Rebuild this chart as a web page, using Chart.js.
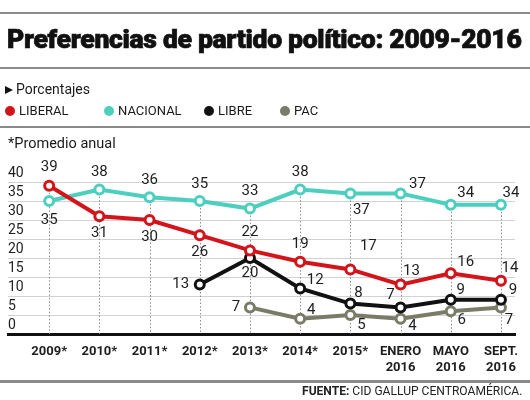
<!DOCTYPE html>
<html>
<head>
<meta charset="utf-8">
<script src="https://cdn.jsdelivr.net/npm/chart.js@4.4.1/dist/chart.umd.min.js"></script>
<style>
  html, body { margin: 0; padding: 0; background: #fff; }
  body { width: 530px; height: 400px; position: relative; overflow: hidden; font-family: Roboto, "Open Sans", sans-serif; color: #1a1a1a; }
  #chartWrap { position: absolute; left: 0; top: 0; width: 530px; height: 400px; }
  .rule { position: absolute; left: 0; width: 530px; background: #8a8a8a; }
  .txt { position: absolute; white-space: nowrap; }
  #title { left: 7px; top: 25px; font-size: 25px; font-weight: 900; line-height: 30px; letter-spacing: -0.3px; transform-origin: left center; color: #111; -webkit-text-stroke: 0.7px #111; }
  #sub { left: 5px; top: 80px; font-size: 14px; line-height: 18px; }
  #tri { display: inline-block; width: 0; height: 0; border-top: 4.5px solid transparent; border-bottom: 4.5px solid transparent; border-left: 8px solid #111; margin-right: 3px; vertical-align: 0px; }
  #note { left: 8px; top: 135px; font-size: 14.5px; line-height: 18px; }
  #source { top: 383px; right: 8px; font-size: 12.5px; line-height: 16px; transform-origin: right center; color: #222; }
  .leg { position: absolute; top: 103px; font-size: 13px; line-height: 16px; white-space: nowrap; }
  .dot { display: inline-block; width: 10px; height: 10px; border-radius: 50%; vertical-align: -1px; margin-right: 4px; }
</style>
</head>
<body>
<div id="chartWrap"><canvas id="c" width="530" height="400"></canvas></div>
<div class="rule" style="top:12px;height:2px"></div>
<div class="txt" id="title">Preferencias de partido político: 2009-2016</div>
<div class="rule" style="top:67px;height:2px"></div>
<div class="txt" id="sub"><span id="tri"></span>Porcentajes</div>
<div id="legend"></div>
<div class="rule" style="top:126px;height:2px"></div>
<div class="txt" id="note">*Promedio anual</div>
<div class="rule" style="top:380px;height:3px"></div>
<div class="txt" id="source"><b>FUENTE:</b> CID GALLUP CENTROAMÉRICA.</div>
<script>
// ---- data ----
const categories = ['2009*', '2010*', '2011*', '2012*', '2013*', '2014*', '2015*', ['ENERO', '2016'], ['MAYO', '2016'], ['SEPT.', '2016']];
const seriesNames = ['LIBERAL', 'NACIONAL', 'LIBRE', 'PAC'];
const liberal  = [39, 31, 30, 26, 22, 19, 17, 13, 16, 14];
const nacional = [35, 38, 36, 35, 33, 38, 37, 37, 34, 34];
const libre    = [null, null, null, 13, 20, 12, 8, 7, 9, 9];
const pac      = [null, null, null, null, 7, 4, 5, 4, 6, 7];
const yTicks   = [0, 5, 10, 15, 20, 25, 30, 35, 40];

// ---- styles ----
const colors = ['#d3141b', '#4ccfbf', '#111111', '#7b7c68'];
// label placement (dx, dy) relative to each point
const labelOffsets = [
  [[0,-19],[0,17],[0,17],[0,17],[0,-18],[0,-18],[18,-23],[11,-13],[15,-11],[9,-13]],
  [[0,19],[0,-17],[0,-17],[0,-17],[0,-17],[0,-17],[11,17],[17,-9],[15,-12],[10,-12]],
  [null,null,null,[-19,0],[0,15],[15,-8],[8,-10],[-10,-12],[10,-10],[12,-10]],
  [null,null,null,null,[-14,0],[11,-9],[11,10],[12,7],[11,9],[8,13]]
];

// legend (HTML)
const legendX = [5, 104, 204, 280];
const legendEl = document.getElementById('legend');
seriesNames.forEach((n, i) => {
  const d = document.createElement('div');
  d.className = 'leg';
  d.style.left = legendX[i] + 'px';
  d.innerHTML = '<span class="dot" style="background:' + colors[i] + '"></span>' + n;
  legendEl.appendChild(d);
});

function fitWidth(id, w) {
  const el = document.getElementById(id);
  const cur = el.scrollWidth;
  el.style.transform = 'scaleX(' + (w / cur) + ')';
}
fitWidth('title', 515);
fitWidth('source', 220);

const allSeries = [liberal, nacional, libre, pac];
const datasets = allSeries.map((arr, i) => ({
  label: seriesNames[i],
  data: arr.map((v, k) => ({ x: k, y: v })),
  borderColor: colors[i],
  backgroundColor: colors[i],
  pointBackgroundColor: '#ffffff',
  pointBorderColor: colors[i],
  pointRadius: 4.5,
  pointBorderWidth: 3,
  borderWidth: 4,
  tension: 0,
  spanGaps: false,
  clip: false
}));

const dropLines = {
  id: 'dropLines',
  beforeDatasetsDraw(chart) {
    const { ctx, scales: { x, y }, chartArea } = chart;
    ctx.save();
    ctx.strokeStyle = '#8c8c8c';
    ctx.lineWidth = 1;
    ctx.setLineDash([1.5, 2]);
    categories.forEach((c, k) => {
      const vals = allSeries.map(s => s[k]).filter(v => v !== null);
      const top = Math.max(...vals);
      const px = Math.round(x.getPixelForValue(k)) + 0.5;
      ctx.beginPath();
      ctx.moveTo(px, y.getPixelForValue(top));
      ctx.lineTo(px, chartArea.bottom);
      ctx.stroke();
    });
    ctx.restore();
  }
};

const dataLabels = {
  id: 'dataLabels',
  afterDatasetsDraw(chart) {
    const { ctx } = chart;
    ctx.save();
    ctx.font = '15px Roboto, "Open Sans", sans-serif';
    ctx.fillStyle = '#1e1e1e';
    ctx.textAlign = 'center';
    ctx.textBaseline = 'middle';
    chart.data.datasets.forEach((ds, i) => {
      const meta = chart.getDatasetMeta(i);
      meta.data.forEach((pt, k) => {
        const v = allSeries[i][k];
        const off = labelOffsets[i][k];
        if (v === null || !off) return;
        ctx.fillText(String(v), pt.x + off[0], pt.y + off[1]);
      });
    });
    ctx.restore();
  }
};

new Chart(document.getElementById('c'), {
  type: 'line',
  data: { datasets },
  options: {
    responsive: false,
    animation: false,
    layout: { padding: { left: 8, right: 15, top: 182, bottom: 0 } },
    plugins: { legend: { display: false }, tooltip: { enabled: false } },
    scales: {
      x: {
        type: 'linear',
        min: -0.82,
        max: 9.28,
        afterBuildTicks: s => { s.ticks = categories.map((c, k) => ({ value: k })); },
        afterFit: s => { s.height = 66; },
        grid: { display: false, drawTicks: false },
        border: { display: true, color: '#111', width: 3 },
        ticks: {
          autoSkip: false,
          maxRotation: 0,
          padding: 10,
          color: '#1e1e1e',
          font: { family: 'Roboto, "Open Sans", sans-serif', size: 13, weight: 'bold', lineHeight: 1.2 },
          callback: (v) => categories[v]
        }
      },
      y: {
        min: 0,
        max: 40,
        afterBuildTicks: s => { s.ticks = yTicks.map(v => ({ value: v })); },
        afterFit: s => { s.width = 0; },
        grid: { color: (c) => c.tick && c.tick.value === 0 ? 'rgba(0,0,0,0)' : '#d2d2d2', lineWidth: 1, drawTicks: false },
        border: { display: false },
        ticks: {
          autoSkip: false,
          mirror: true,
          padding: 0,
          labelOffset: -9,
          color: '#1e1e1e',
          font: { family: 'Roboto, "Open Sans", sans-serif', size: 14 }
        }
      }
    }
  },
  plugins: [dropLines, dataLabels]
});
</script>
</body>
</html>
